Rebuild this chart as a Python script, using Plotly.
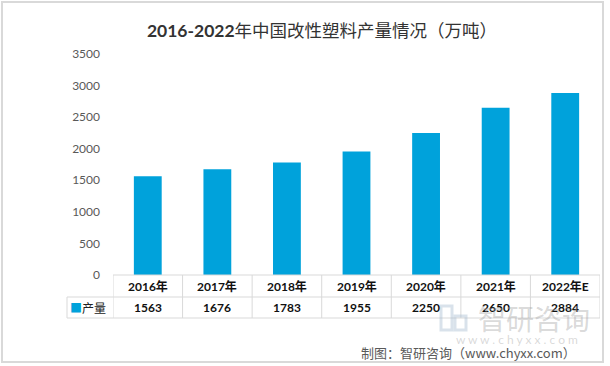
import plotly.graph_objects as go

# ---- data ----
years = ["2016年", "2017年", "2018年", "2019年", "2020年", "2021年", "2022年E"]
output = [1563, 1676, 1783, 1955, 2250, 2650, 2884]
series_name = "产量"
y_ticks = [0, 500, 1000, 1500, 2000, 2500, 3000, 3500]
title_text = "<b>2016-2022</b>年中国改性塑料产量情况（万吨）"
source_text = "制图：智研咨询（www.chyxx.com）"
watermark_text = "智研咨询"
watermark_url = "w w w . c h y x x . c o m"

# ---- layout geometry (pixels) ----
W, H = 610, 366
L, R, T, B = 113, 10, 54, 91
PW, PH = W - L - R, H - T - B
BAR_COLOR = "#00a2db"
GRID = "#d9d9d9"
FONT = "Lato, 'Noto Sans CJK SC', sans-serif"
CJK = "'Noto Sans CJK SC', sans-serif"


def px_y(p):
    """pixel y (from top of figure) -> paper y"""
    return (H - B - p) / PH


def px_x(p):
    """pixel x (from left of figure) -> paper x"""
    return (p - L) / PW


fig = go.Figure()
fig.add_trace(go.Bar(x=years, y=output, marker=dict(color=BAR_COLOR, line=dict(width=0)),
                     name=series_name, showlegend=False, hoverinfo="x+y"))

n = len(years)
row1 = H - B + 22
row2 = H - B + 43
legend_left = px_x(67)

shapes = []
# horizontal table lines
shapes.append(dict(type="line", xref="paper", yref="paper", x0=0, x1=1, y0=0, y1=0,
                   line=dict(color=GRID, width=1)))
for r in (row1, row2):
    shapes.append(dict(type="line", xref="paper", yref="paper", x0=legend_left, x1=1,
                       y0=px_y(r), y1=px_y(r), line=dict(color=GRID, width=1)))
# vertical table lines
for i in range(n + 1):
    shapes.append(dict(type="line", xref="x", yref="paper", x0=i - 0.5, x1=i - 0.5,
                       y0=0, y1=px_y(row2), line=dict(color=GRID, width=1)))
shapes.append(dict(type="line", xref="paper", yref="paper", x0=legend_left, x1=legend_left,
                   y0=px_y(row1), y1=px_y(row2), line=dict(color=GRID, width=1)))
# outer border
shapes.append(dict(type="rect", xref="paper", yref="paper", x0=px_x(2), x1=px_x(603),
                   y0=px_y(362), y1=px_y(2), line=dict(color=GRID, width=2)))
# watermark logo (approx.)
shapes.append(dict(type="rect", xref="paper", yref="paper", x0=px_x(441), x1=px_x(452),
                   y0=px_y(330), y1=px_y(306), line=dict(color="rgba(170,190,210,0.45)", width=3)))
shapes.append(dict(type="rect", xref="paper", yref="paper", x0=px_x(455), x1=px_x(466),
                   y0=px_y(330), y1=px_y(316), line=dict(color="rgba(170,190,210,0.45)", width=3)))

ann = []
for i, (yr, v) in enumerate(zip(years, output)):
    ann.append(dict(x=i, y=px_y((H - B + row1) / 2), xref="x", yref="paper", text=f"<b>{yr}</b>",
                    xanchor="center", yanchor="middle",
                    showarrow=False, font=dict(size=12, color="#111111", family=FONT)))
    ann.append(dict(x=i, y=px_y((row1 + row2) / 2), xref="x", yref="paper", text=f"<b>{v}</b>",
                    xanchor="center", yanchor="middle",
                    showarrow=False, font=dict(size=12, color="#111111", family=FONT)))
ann.append(dict(x=px_x(88), y=px_y((row1 + row2) / 2), xref="paper", yref="paper",
                text=f"<span style='color:{BAR_COLOR}'>■</span>{series_name}",
                xanchor="center", yanchor="middle",
                showarrow=False, font=dict(size=12, color="#222222", family=CJK)))
# watermark
ann.append(dict(x=px_x(534), y=px_y(318), xref="paper", yref="paper", text=watermark_text,
                xanchor="center", yanchor="middle",
                showarrow=False, font=dict(size=28, color="rgba(160,160,160,0.4)", family=CJK)))
ann.append(dict(x=px_x(517), y=px_y(339), xref="paper", yref="paper", text=watermark_url,
                xanchor="center", yanchor="middle",
                showarrow=False, font=dict(size=12, color="rgba(170,170,170,0.45)", family=FONT)))
# source
ann.append(dict(x=px_x(578), y=px_y(352), xref="paper", yref="paper", text=source_text,
                xanchor="right", yanchor="middle",
                showarrow=False, font=dict(size=13, color="#595959", family=CJK)))

fig.update_layout(
    width=W, height=H,
    margin=dict(l=L, r=R, t=T, b=B, pad=0),
    paper_bgcolor="white", plot_bgcolor="white",
    bargap=0.6,
    title=dict(text=title_text, x=322 / W, xanchor="center", y=1 - 31 / H, yanchor="middle",
               font=dict(size=17.5, color="#333333", family=FONT)),
    xaxis=dict(showticklabels=False, showgrid=False, zeroline=False, showline=False,
               range=[-0.5, n - 0.5], fixedrange=True),
    yaxis=dict(range=[0, 3500], tickvals=y_ticks, showgrid=False, zeroline=False, showline=False,
               ticks="", ticklabelstandoff=12, tickfont=dict(size=12, color="#595959", family=FONT)),
    shapes=shapes,
    annotations=ann,
    font=dict(family=FONT),
)

fig.write_html("out.html", config={"displayModeBar": False},
               post_script="document.body.style.margin='0';document.body.style.overflow='hidden';")
